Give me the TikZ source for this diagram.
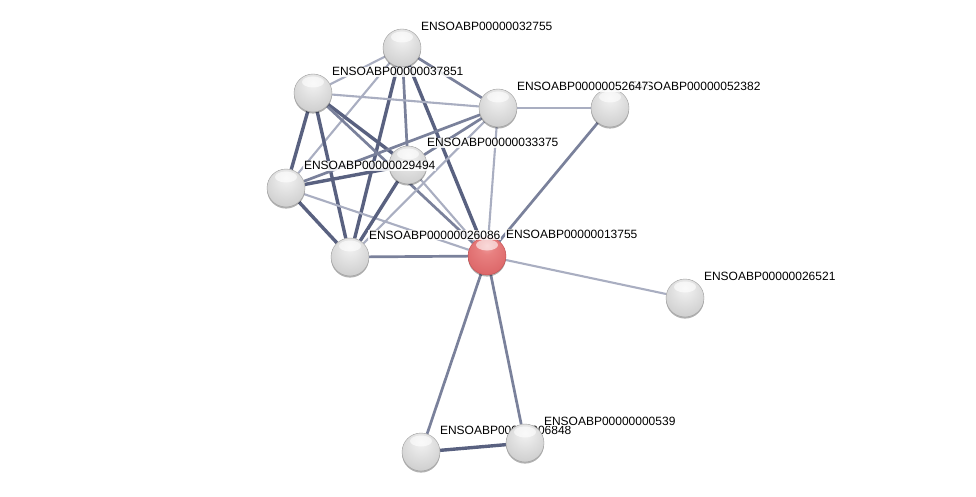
\documentclass[tikz,border=0pt]{standalone}
\usepackage{fontspec}
\setmainfont{Liberation Sans}
\usetikzlibrary{shadows}
\pgfdeclarelayer{paper}
\pgfdeclarelayer{background}
\pgfsetlayers{paper,background,main}
\definecolor{edark}{HTML}{596180}
\definecolor{emed}{HTML}{7A819B}
\definecolor{elight}{HTML}{A9AEC1}
\definecolor{rA}{RGB}{242,160,160}
\definecolor{rB}{RGB}{232,128,128}
\definecolor{rC}{RGB}{220,102,104}
\definecolor{rD}{RGB}{190,76,78}
\definecolor{rE}{RGB}{130,45,47}
\pgfdeclareradialshading{gsphere}{\pgfpoint{0bp}{14bp}}{color(0bp)=(black!5); color(10bp)=(black!9); color(32bp)=(black!19); color(48bp)=(black!31); color(56bp)=(black!47); color(64bp)=(black!65)}
\pgfdeclareradialshading{rsphere}{\pgfpoint{0bp}{14bp}}{color(0bp)=(rA); color(10bp)=(rB); color(32bp)=(rC); color(48bp)=(rD); color(64bp)=(rE)}
\tikzset{
  prot/.style={circle, minimum size=38pt, inner sep=0pt, shading=gsphere, draw=black!38, line width=0.4pt,
    drop shadow={shadow xshift=0pt, shadow yshift=-1.6pt, opacity=0.3, fill=black},
    path picture={\fill[white, opacity=0.6] ([yshift=11pt]path picture bounding box.center) ellipse (11pt and 5.5pt);}},
  qprot/.style={prot, shading=rsphere, draw=rD},
  lbl/.style={anchor=base west, inner sep=0.8pt, fill=white, fill opacity=0.85, text opacity=1, font=\fontsize{12pt}{14pt}\selectfont},
  ed/.style={draw=edark, line width=3.4pt},
  em/.style={draw=emed, line width=2.7pt},
  el/.style={draw=elight, line width=2.1pt}
}
\begin{document}
\begin{tikzpicture}[x=1pt,y=-1pt]
\useasboundingbox (0,0) rectangle (976,497);
\begin{pgfonlayer}{paper}
\fill[white] (0,0) rectangle (976,497);
\end{pgfonlayer}
% nodes
\node[prot] (a) at (402,48) {};
\node[prot] (b) at (313,93) {};
\node[prot] (d) at (610,108) {};
\node[prot] (c) at (498,108) {};
\node[prot] (e) at (408,165) {};
\node[prot] (f) at (286,188) {};
\node[prot] (g) at (350,257) {};
\node[qprot] (h) at (487,256) {};
\node[prot] (i) at (685,298) {};
\node[prot] (j) at (421,452) {};
% labels
\node[lbl] (la) at ([shift={(18,-17)}]a.center) {ENSOABP00000032755};
\node[lbl] (lb) at ([shift={(18,-17)}]b.center) {ENSOABP00000037851};
\node[lbl] (ld) at ([shift={(18,-17)}]d.center) {ENSOABP00000052382};
\node[lbl] (lc) at ([shift={(18,-17)}]c.center) {ENSOABP00000052647};
\node[lbl] (le) at ([shift={(18,-18)}]e.center) {ENSOABP00000033375};
\node[lbl] (lf) at ([shift={(17,-18)}]f.center) {ENSOABP00000029494};
\node[lbl] (lg) at ([shift={(18,-18)}]g.center) {ENSOABP00000026086};
\node[lbl] (lh) at ([shift={(18,-18)}]h.center) {ENSOABP00000013755};
\node[lbl] (li) at ([shift={(18,-18)}]i.center) {ENSOABP00000026521};
\node[lbl] (lj) at ([shift={(18,-18)}]j.center) {ENSOABP00000006848};
\node[prot] (k) at (525,443) {};
\node[lbl] (lk) at ([shift={(18,-18)}]k.center) {ENSOABP00000000539};
% edges
\begin{pgfonlayer}{background}
\draw[el] (a) -- (b);
\draw[em] (a) -- (c);
\draw[el] (a) -- (f);
\draw[ed] (a) -- (g);
\draw[em] (a) -- (e);
\draw[ed] (a) -- (h);
\draw[el] (b) -- (c);
\draw[ed] (b) -- (e);
\draw[ed] (b) -- (f);
\draw[ed] (b) -- (g);
\draw[em] (b) -- (h);
\draw[ed] (f) -- (e);
\draw[em] (f) -- (c);
\draw[ed] (f) -- (g);
\draw[el] (f) -- (h);
\draw[ed] (g) -- (e);
\draw[el] (g) -- (c);
\draw[em] (g) -- (h);
\draw[em] (e) -- (c);
\draw[el] (e) -- (h);
\draw[el] (c) -- (h);
\draw[el] (c) -- (d);
\draw[em] (h) -- (d);
\draw[el] (h) -- (i);
\draw[em] (h) -- (j);
\draw[em] (h) -- (k);
\draw[ed] (j) -- (k);
\end{pgfonlayer}
\end{tikzpicture}
\end{document}
